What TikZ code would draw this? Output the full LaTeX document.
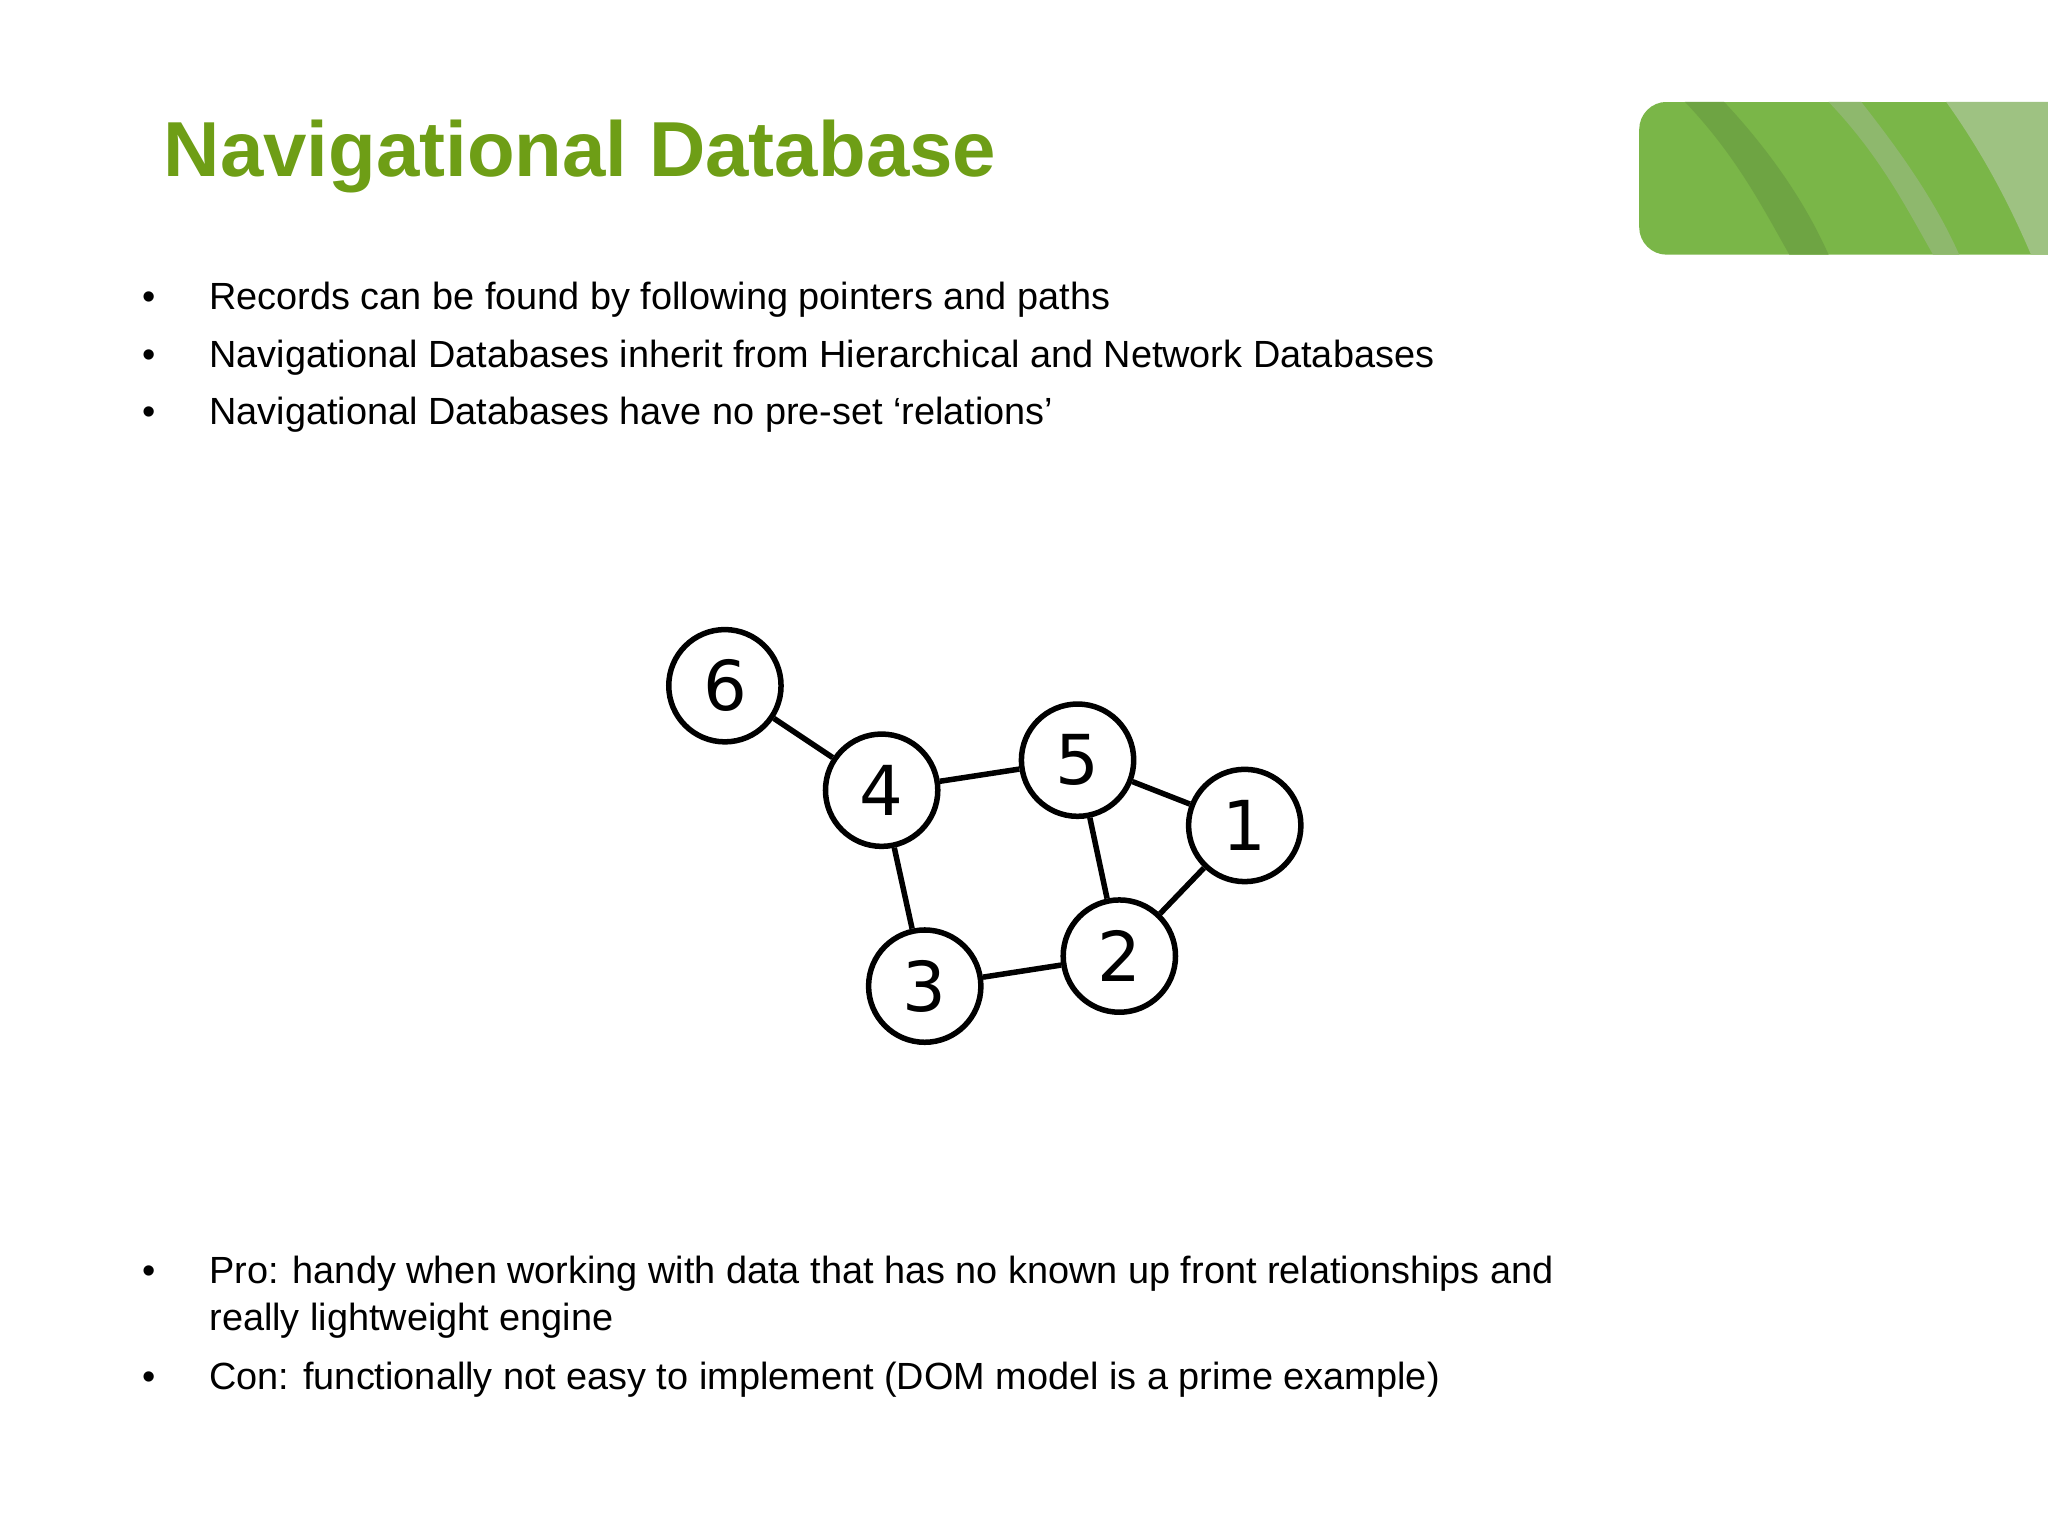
\documentclass[tikz,border=0pt]{standalone}
\usepackage{fontspec}
\setmainfont{Liberation Sans}
\newfontfamily\numfont{DejaVu Sans}
\definecolor{titlegreen}{HTML}{6E9E16}
\definecolor{bandA}{HTML}{5E9A2E}
\definecolor{bandB}{HTML}{7AB648}
\begin{document}
\begin{tikzpicture}[x=0.02cm,y=-0.02cm,
  vtx/.style={circle,draw,line width=2.4pt,minimum size=1.72cm,inner sep=0pt,font=\numfont\fontsize{30}{30}\selectfont},
  edge/.style={line width=2.4pt},
  btxt/.style={anchor=base west,font=\fontsize{16.5}{20}\selectfont,inner sep=0pt},
  bul/.style={anchor=base,font=\fontsize{16.5}{20}\selectfont,inner sep=0pt}]
\useasboundingbox (0,0) rectangle (1568,1176);
\fill[white] (0,0) rectangle (1568,1176);
% banner
\begin{scope}
\clip[rounded corners=12] (1255,78) rectangle (1600,195);
\fill[bandB] (1255,78) rectangle (1600,195);
\fill[bandA!90] (1290,78) .. controls (1330,120) and (1350,160) .. (1370,195) -- (1400,195) .. controls (1380,150) and (1350,110) .. (1320,78) -- cycle;
\fill[bandA!70] (1400,78) .. controls (1440,120) and (1460,160) .. (1480,195) -- (1500,195) .. controls (1480,150) and (1450,110) .. (1425,78) -- cycle;
\fill[bandA!60] (1490,78) .. controls (1520,120) and (1540,160) .. (1555,195) -- (1570,195) -- (1570,78) -- cycle;
\end{scope}
\node[anchor=base west,inner sep=0pt,text=titlegreen,font=\bfseries\fontsize{34}{40}\selectfont] (title) at (125,135) {Navigational Database};
% bullets
\node[bul] (b1) at (114,237) {•};
\node[btxt] (t1) at (160,237) {Records can be found by following pointers and paths};
\node[bul] (b2) at (114,281) {•};
\node[btxt] (t2) at (160,281) {Navigational Databases inherit from Hierarchical and Network Databases};
\node[bul] (b3) at (114,325) {•};
\node[btxt] (t3) at (160,325) {Navigational Databases have no pre-set ‘relations’};
\node[bul] (b4) at (114,983) {•};
\node[btxt] (t4) at (160,983) {Pro: handy when working with data that has no known up front relationships and};
\node[btxt] (t4b) at (160,1019) {really lightweight engine};
\node[bul] (b5) at (114,1064) {•};
\node[btxt] (t5) at (160,1064) {Con: functionally not easy to implement (DOM model is a prime example)};
% graph
\node[vtx] (n6) at (555,525) {6};
\node[vtx] (n4) at (675,605) {4};
\node[vtx] (n5) at (825,582) {5};
\node[vtx] (n1) at (953,632) {1};
\node[vtx] (n2) at (857,732) {2};
\node[vtx] (n3) at (708,755) {3};
\draw[edge] (n6)--(n4);
\draw[edge] (n4)--(n5);
\draw[edge] (n5)--(n1);
\draw[edge] (n5)--(n2);
\draw[edge] (n1)--(n2);
\draw[edge] (n4)--(n3);
\draw[edge] (n3)--(n2);
\end{tikzpicture}
\end{document}
